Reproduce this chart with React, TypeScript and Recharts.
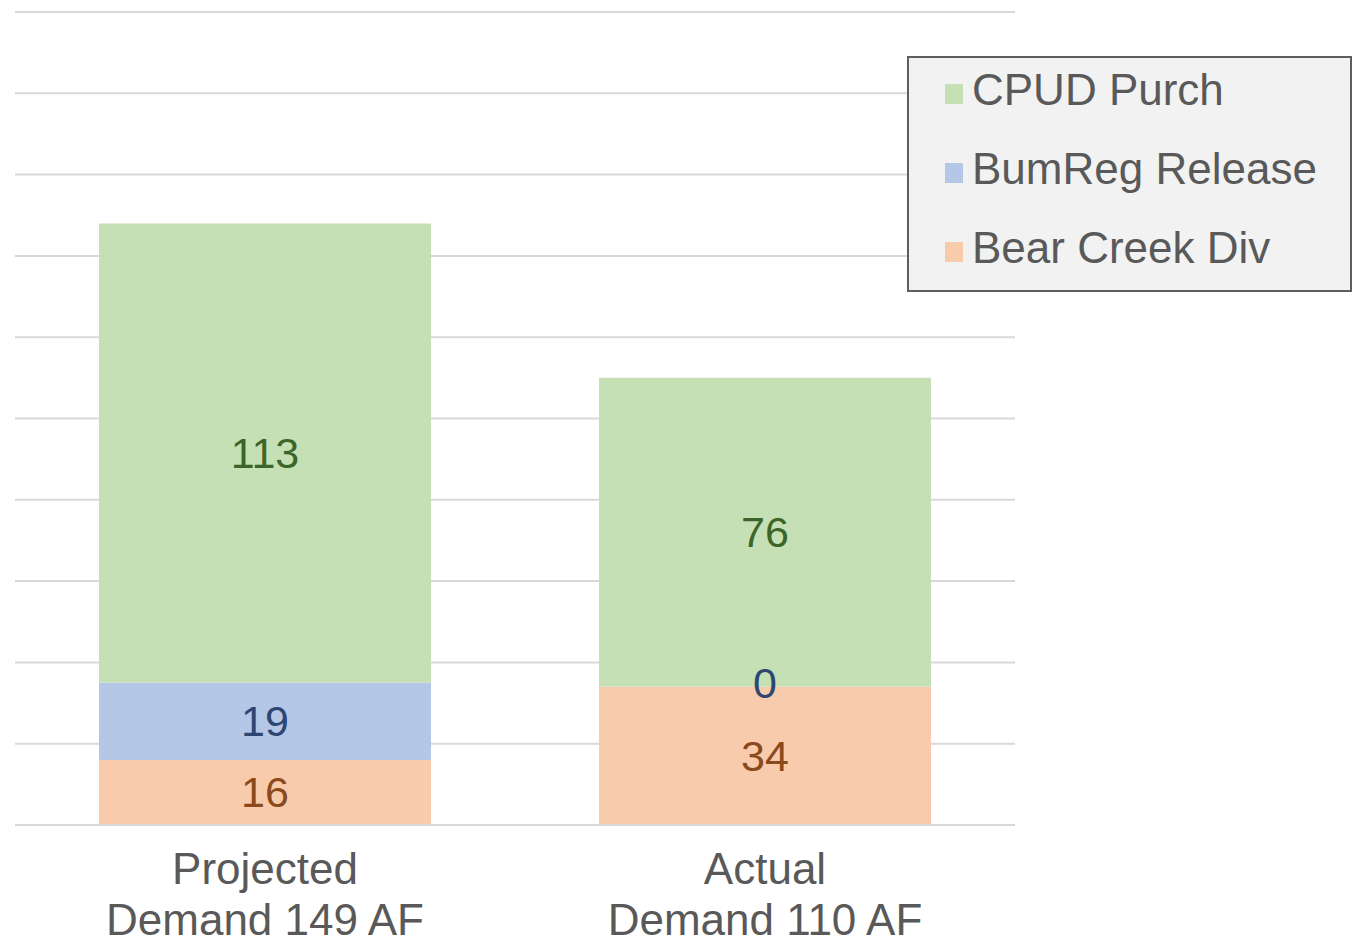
import { BarChart, Bar, XAxis, YAxis, CartesianGrid, LabelList } from 'recharts';

const categories = ['Projected\nDemand 149 AF', 'Actual\nDemand 110 AF'];
const bearCreekDiv = [16, 34];
const bumRegRelease = [19, 0];
const cpudPurch = [113, 76];
const yTicks = [0, 20, 40, 60, 80, 100, 120, 140, 160, 180, 200];

const FONT = '"Liberation Sans", Arial, Helvetica, sans-serif';

const SERIES = [
  { key: 'bear', name: 'Bear Creek Div', fill: '#f8cbad', text: '#8a4a1c' },
  { key: 'bum', name: 'BumReg Release', fill: '#b4c7e7', text: '#2f4672' },
  { key: 'cpud', name: 'CPUD Purch', fill: '#c5e0b4', text: '#3b6529' },
];

const data = categories.map((name, i) => ({
  name,
  bear: bearCreekDiv[i],
  bum: bumRegRelease[i],
  cpud: cpudPurch[i],
}));

function CategoryTick(props: any) {
  const { x, y, payload } = props;
  const lines = String(payload.value).split('\n');
  return (
    <text x={x} y={y} textAnchor="middle" fill="#595959" fontFamily={FONT} fontSize={44}>
      {lines.map((ln, i) => (
        <tspan key={i} x={x} dy={51}>{ln}</tspan>
      ))}
    </text>
  );
}

function valueText(cx: number, cy: number, value: any, color: string) {
  return (
    <text x={cx} y={cy} textAnchor="middle" dominantBaseline="central"
      fill={color} fontFamily={FONT} fontSize={43}>
      {value}
    </text>
  );
}

function makeLabel(color: string) {
  return (props: any) => {
    const { x, y, width, height, value } = props;
    if (value == null) return null;
    return valueText(Number(x) + Number(width) / 2, Number(y) + Number(height) / 2, value, color);
  };
}

// a zero-height BumReg segment is not drawn, so its "0" is put on top of the Bear Creek segment
function zeroBumLabel(props: any) {
  const { x, y, width, value } = props;
  if (value !== 0) return null;
  return valueText(Number(x) + Number(width) / 2, Number(y) - 4, value, '#2f4672');
}

function LegendBox() {
  const items = [...SERIES].reverse();
  return (
    <div style={{
      position: 'absolute', left: 907, top: 56, width: 441, height: 232,
      background: '#f2f2f2', border: '2px solid #5e5e5e',
      fontFamily: FONT, fontSize: 44, color: '#595959', overflow: 'hidden',
    }}>
      <div style={{ marginTop: -8 }}>
        {items.map((s) => (
          <div key={s.key} style={{ display: 'flex', alignItems: 'center', height: 79, paddingLeft: 36 }}>
            <span style={{ display: 'inline-block', width: 18, height: 20, background: s.fill, marginRight: 9, marginTop: 8 }} />
            <span style={{ lineHeight: '50px' }}>{s.name}</span>
          </div>
        ))}
      </div>
    </div>
  );
}

export default function App() {
  return (
    <div style={{ position: 'absolute', left: 0, top: 0, width: 1358, height: 945, background: '#fff' }}>
      <BarChart
        width={1358}
        height={945}
        data={data}
        margin={{ top: 12, right: 343, left: 15, bottom: 0 }}
        barCategoryGap="16.8%"
      >
        <CartesianGrid vertical={false} stroke="#d9d9d9" strokeWidth={2} />
        <YAxis hide domain={[0, 200]} ticks={yTicks} />
        <XAxis
          dataKey="name"
          height={120}
          axisLine={{ stroke: '#d9d9d9', strokeWidth: 2 }}
          tickLine={false}
          interval={0}
          tick={<CategoryTick />}
        />
        {SERIES.map((s) => (
          <Bar key={s.key} dataKey={s.key} name={s.name} stackId="a" fill={s.fill} isAnimationActive={false}>
            <LabelList dataKey={s.key} content={makeLabel(s.text)} />
            {s.key === 'bear' && <LabelList dataKey="bum" content={zeroBumLabel} />}
          </Bar>
        ))}
      </BarChart>
      <LegendBox />
    </div>
  );
}
